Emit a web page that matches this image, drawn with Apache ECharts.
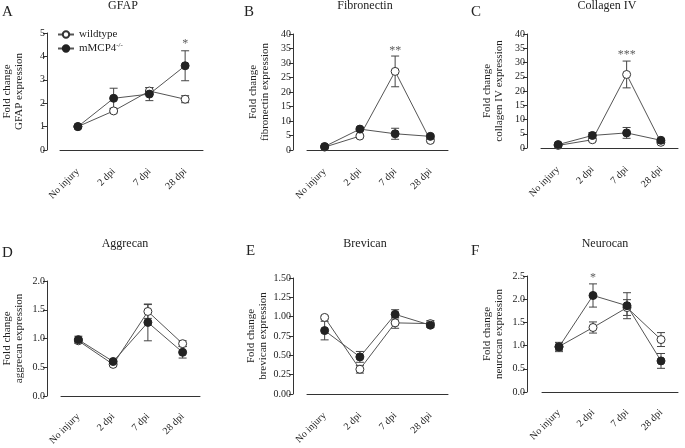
<!DOCTYPE html>
<html>
<head>
<meta charset="utf-8">
<script src="https://cdn.jsdelivr.net/npm/echarts@6/dist/echarts.min.js"></script>
<style>html,body{margin:0;padding:0;background:#fff;}#c{width:685px;height:448px;}</style>
</head>
<body>
<div id="c"></div>
<script>
// ---- data ----
const categories = ['No injury', '2 dpi', '7 dpi', '28 dpi'];
const panelTitles = ['GFAP', 'Fibronectin', 'Collagen IV', 'Aggrecan', 'Brevican', 'Neurocan'];
const panelLetters = ['A', 'B', 'C', 'D', 'E', 'F'];
const yNames = ['Fold change\nGFAP expression', 'Fold change\nfibronectin expression', 'Fold change\ncollagen IV expression',
  'Fold change\naggrecan expression', 'Fold change\nbrevican expression', 'Fold change\nneurocan expression'];
const yMax = [5, 40, 40, 2, 1.5, 2.5];
const yInterval = [1, 5, 5, 0.5, 0.25, 0.5];
const yDecimals = [0, 0, 0, 1, 2, 1];

const gfapWt = [1.0, 1.67, 2.52, 2.17];
const gfapWtErr = [0.03, 0.08, 0.15, 0.15];
const gfapKo = [1.0, 2.21, 2.39, 3.6];
const gfapKoErr = [0.05, 0.43, 0.28, 0.64];

const fibWt = [1.0, 4.8, 27.1, 3.3];
const fibWtErr = [0.3, 0.5, 5.3, 0.5];
const fibKo = [1.2, 7.2, 5.6, 4.7];
const fibKoErr = [0.3, 0.5, 1.9, 0.5];

const colWt = [0.9, 2.9, 25.8, 2.0];
const colWtErr = [0.3, 0.5, 4.7, 0.4];
const colKo = [1.2, 4.4, 5.3, 2.7];
const colKoErr = [0.3, 1.0, 1.9, 0.5];

const aggWt = [0.96, 0.55, 1.47, 0.91];
const aggWtErr = [0.04, 0.03, 0.12, 0.05];
const aggKo = [0.98, 0.6, 1.28, 0.76];
const aggKoErr = [0.06, 0.03, 0.32, 0.1];

const breWt = [0.99, 0.32, 0.92, 0.91];
const breWtErr = [0.02, 0.05, 0.07, 0.04];
const breKo = [0.82, 0.48, 1.03, 0.89];
const breKoErr = [0.12, 0.07, 0.06, 0.03];

const neuWt = [0.98, 1.39, 1.82, 1.13];
const neuWtErr = [0.08, 0.12, 0.17, 0.15];
const neuKo = [0.97, 2.08, 1.86, 0.67];
const neuKoErr = [0.1, 0.25, 0.28, 0.16];

const starText = [['', '', '', '*'], ['', '', '**', ''], ['', '', '***', ''], ['', '', '', ''], ['', '', '', ''], ['', '*', '', '']];
const starY = [[0, 0, 0, 4.55], [0, 0, 34.3, 0], [0, 0, 32.6, 0], [0, 0, 0, 0], [0, 0, 0, 0], [0, 2.45, 0, 0]];

const wtSets = [gfapWt, fibWt, colWt, aggWt, breWt, neuWt];
const wtErrSets = [gfapWtErr, fibWtErr, colWtErr, aggWtErr, breWtErr, neuWtErr];
const koSets = [gfapKo, fibKo, colKo, aggKo, breKo, neuKo];
const koErrSets = [gfapKoErr, fibKoErr, colKoErr, aggKoErr, breKoErr, neuKoErr];

// ---- layout ----
const layout = [
  {left: 60, top: 33, width: 143, height: 117, yOff: 13, xOff: 13, title: [123, 0], letter: [2, 5]},
  {left: 307, top: 34, width: 141, height: 116, yOff: 14, xOff: 13, title: [365, 0], letter: [244, 5]},
  {left: 541, top: 34, width: 137, height: 114, yOff: 14, xOff: 13, title: [607, 0], letter: [471, 5]},
  {left: 58, top: 281, width: 142, height: 115, yOff: 14, xOff: 12, title: [125, 238], letter: [2, 246]},
  {left: 307, top: 278, width: 141, height: 116, yOff: 14, xOff: 13, title: [365, 238], letter: [246, 244]},
  {left: 542, top: 276, width: 136, height: 116, yOff: 15, xOff: 12, title: [605, 238], letter: [471, 244]}
];

const FONT = "'Liberation Serif', 'Times New Roman', serif";
const TXT = '#222';
const AX = '#333';

function errRender(params, api) {
  const x = api.value(0);
  const lo = api.coord([x, api.value(1)]);
  const hi = api.coord([x, api.value(2)]);
  const h = 4;
  const st = {stroke: '#444', lineWidth: 1};
  return {
    type: 'group',
    children: [
      {type: 'line', shape: {x1: lo[0], y1: lo[1], x2: hi[0], y2: hi[1]}, style: st},
      {type: 'line', shape: {x1: hi[0] - h, y1: hi[1], x2: hi[0] + h, y2: hi[1]}, style: st},
      {type: 'line', shape: {x1: lo[0] - h, y1: lo[1], x2: lo[0] + h, y2: lo[1]}, style: st}
    ]
  };
}

const grids = [], xAxes = [], yAxes = [], series = [], graphics = [];
layout.forEach((L, i) => {
  grids.push({left: L.left, top: L.top, width: L.width, height: L.height, containLabel: false});
  xAxes.push({
    type: 'category', gridIndex: i, data: categories, boundaryGap: true, offset: L.xOff,
    axisLine: {lineStyle: {color: AX, width: 1}},
    axisTick: {alignWithLabel: true, length: 3, lineStyle: {color: AX}},
    axisLabel: {rotate: 45, interval: 0, margin: 7, fontFamily: FONT, fontSize: 10, color: TXT}
  });
  const dec = yDecimals[i];
  yAxes.push({
    type: 'value', gridIndex: i, min: 0, max: yMax[i], interval: yInterval[i], offset: L.yOff,
    splitLine: {show: false},
    axisLine: {show: true, lineStyle: {color: AX, width: 1}},
    axisTick: {show: true, length: 4, lineStyle: {color: AX}},
    axisLabel: {margin: 2, fontFamily: FONT, fontSize: 10, color: TXT, formatter: v => v.toFixed(dec)},
    name: yNames[i], nameLocation: 'middle', nameGap: 22, nameRotate: 90,
    nameTextStyle: {fontFamily: FONT, fontSize: 11, color: TXT, lineHeight: 12}
  });
  const wt = wtSets[i], wtE = wtErrSets[i], ko = koSets[i], koE = koErrSets[i];
  series.push({
    type: 'custom', xAxisIndex: i, yAxisIndex: i, renderItem: errRender, z: 1, silent: true,
    encode: {x: 0, y: [1, 2]},
    data: wt.map((v, k) => [k, v - wtE[k], v + wtE[k]])
  });
  series.push({
    type: 'custom', xAxisIndex: i, yAxisIndex: i, renderItem: errRender, z: 1, silent: true,
    encode: {x: 0, y: [1, 2]},
    data: ko.map((v, k) => [k, v - koE[k], v + koE[k]])
  });
  series.push({
    name: 'wildtype', type: 'line', xAxisIndex: i, yAxisIndex: i, data: wt, z: 2,
    symbol: 'circle', symbolSize: 8, showAllSymbol: true,
    lineStyle: {color: '#555', width: 1},
    itemStyle: {color: '#fff', borderColor: '#333', borderWidth: 1},
    animation: false
  });
  series.push({
    name: 'mMCP4', type: 'line', xAxisIndex: i, yAxisIndex: i, data: ko, z: 3,
    symbol: 'circle', symbolSize: 8, showAllSymbol: true,
    lineStyle: {color: '#555', width: 1},
    itemStyle: {color: '#222', borderColor: '#222', borderWidth: 1},
    animation: false
  });
  series.push({
    type: 'scatter', xAxisIndex: i, yAxisIndex: i, symbolSize: 0, z: 4, silent: true,
    data: starY[i].map((y, k) => ({value: [k, y], label: {show: starText[i][k] !== '', formatter: starText[i][k]}})),
    label: {position: 'inside', fontFamily: FONT, fontSize: 12, color: '#333'}
  });
  graphics.push({type: 'text', x: L.title[0], y: L.title[1],
    style: {text: panelTitles[i], textAlign: 'center', textVerticalAlign: 'top', font: '12px ' + FONT, fill: TXT}});
  graphics.push({type: 'text', x: L.letter[0], y: L.letter[1],
    style: {text: panelLetters[i], textAlign: 'left', textVerticalAlign: 'top', font: '15px ' + FONT, fill: TXT}});
});

const chart = echarts.init(document.getElementById('c'), null, {renderer: 'canvas'});
chart.setOption({
  animation: false,
  backgroundColor: '#fff',
  grid: grids, xAxis: xAxes, yAxis: yAxes, series: series,
  graphic: graphics,
  legend: {
    data: ['wildtype', 'mMCP4'], orient: 'vertical', left: 57, top: 29, padding: 0,
    itemWidth: 16, itemHeight: 8, itemGap: 2, selectedMode: false,
    formatter: n => n === 'mMCP4' ? '{n|mMCP4}{s|-/-}' : '{n|wildtype}',
    textStyle: {fontFamily: FONT, fontSize: 11, color: TXT,
      rich: {n: {fontFamily: FONT, fontSize: 11, color: TXT}, s: {fontFamily: FONT, fontSize: 7, color: TXT, padding: [0, 0, 6, 0]}}}
  }
});
</script>
</body>
</html>
